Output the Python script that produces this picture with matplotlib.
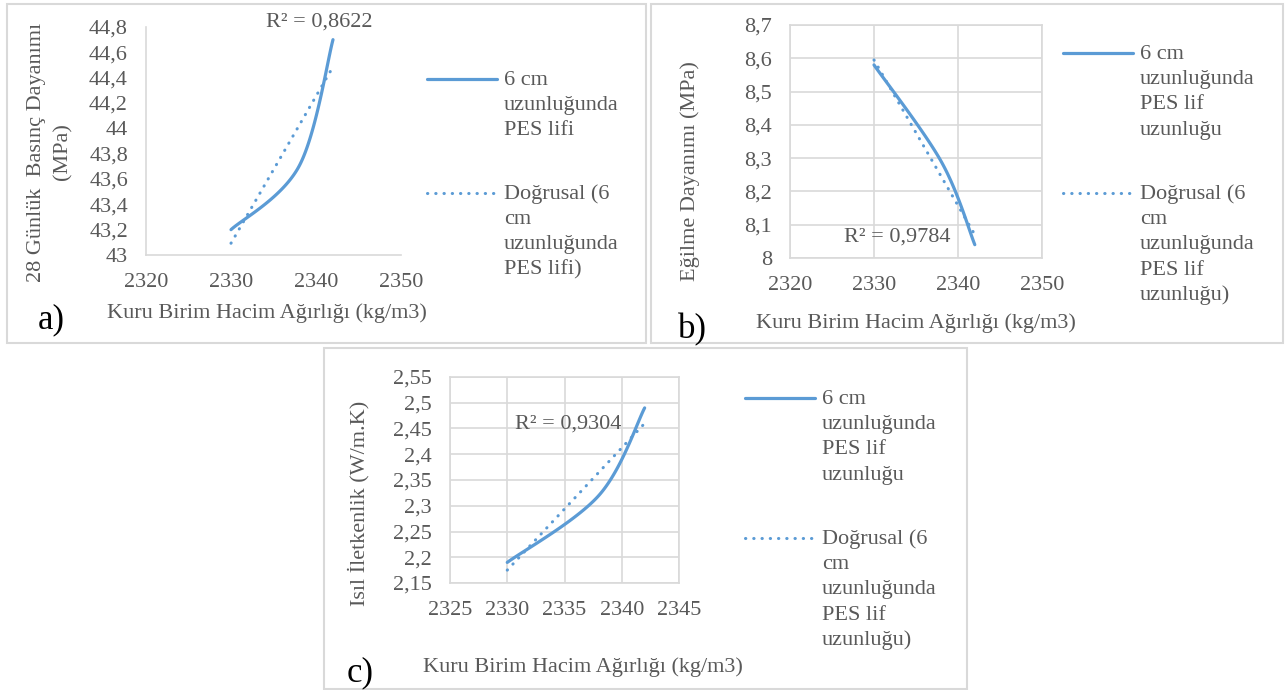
import numpy as np
import matplotlib.pyplot as plt
from matplotlib.lines import Line2D
from matplotlib.patches import Rectangle
from matplotlib.ticker import FuncFormatter

plt.rcParams['font.family'] = ['Liberation Serif', 'DejaVu Serif']

W, H = 1285, 690
BLUE = '#5b9bd5'
GREY = '#595959'
LINE = '#d9d9d9'

# data
density = [2330, 2338, 2342]
compressive = [43.2, 43.7, 44.7]
flexural = [8.58, 8.29, 8.04]
thermal = [2.19, 2.32, 2.49]

x_label = 'Kuru Birim Hacim Ağırlığı (kg/m3)'
r2_text = ['R² = 0,8622', 'R² = 0,9784', 'R² = 0,9304']
legend_a = (['6 cm', 'uzunluğunda', 'PES lifi'],
            ['Doğrusal (6', 'cm', 'uzunluğunda', 'PES lifi)'])
legend_bc = (['6 cm', 'uzunluğunda', 'PES lif', 'uzunluğu'],
             ['Doğrusal (6', 'cm', 'uzunluğunda', 'PES lif', 'uzunluğu)'])

fig = plt.figure(figsize=(W / 100, H / 100), dpi=100)


def fy(py):
    return 1 - py / H


def make_axes(l, t, r, b):
    return fig.add_axes([l / W, 1 - b / H, (r - l) / W, (b - t) / H])


def comma(v, pos):
    s = f'{v:.2f}'.rstrip('0').rstrip('.')
    return s.replace('.', ',')


def style(ax, xlim, xticks, ylim, yticks, grid):
    ax.set_xlim(*xlim)
    ax.set_ylim(*ylim)
    ax.set_xticks(xticks)
    ax.set_yticks(yticks)
    ax.yaxis.set_major_formatter(FuncFormatter(comma))
    ax.tick_params(length=0, labelsize=16, labelcolor=GREY, pad=13)
    for sp in ax.spines.values():
        sp.set_color(LINE)
        sp.set_linewidth(1.2)
    if grid:
        ax.grid(True, color=LINE, lw=1.2)
        ax.set_axisbelow(True)
    else:
        ax.spines['top'].set_visible(False)
        ax.spines['right'].set_visible(False)


def smooth(ax, xs, ys, steps=60):
    # excel-like bezier smoothing done in pixel space
    pts = ax.transData.transform(np.column_stack([xs, ys]))
    p = np.vstack([pts[0], pts, pts[-1]])
    t = np.linspace(0, 1, steps)[:, None]
    segs = []
    for i in range(1, len(p) - 2):
        p0, p1, p2, p3 = p[i - 1], p[i], p[i + 1], p[i + 2]
        c1 = p1 + (p2 - p0) / 6
        c2 = p2 - (p3 - p1) / 6
        segs.append((1 - t) ** 3 * p1 + 3 * (1 - t) ** 2 * t * c1
                    + 3 * (1 - t) * t ** 2 * c2 + t ** 3 * p2)
    return ax.transData.inverted().transform(np.vstack(segs))


def draw_series(ax, xs, ys):
    curve = smooth(ax, xs, ys)
    ax.plot(curve[:, 0], curve[:, 1], color=BLUE, lw=2.3,
            solid_capstyle='round')
    k, b = np.polyfit(xs, ys, 1)
    xt = np.array([min(xs), max(xs)])
    ax.plot(xt, k * xt + b, color=BLUE, lw=2.2,
            linestyle=(0, (0.1, 2.6)), dash_capstyle='round')


def legend(x0, y_solid, y_dot, labels):
    fig.add_artist(Line2D([x0 / W, (x0 + 70) / W], [fy(y_solid)] * 2,
                          color=BLUE, lw=2.3, solid_capstyle='round'))
    fig.add_artist(Line2D([x0 / W, (x0 + 70) / W], [fy(y_dot)] * 2,
                          color=BLUE, lw=2.2, linestyle=(0, (0.1, 2.6)),
                          dash_capstyle='round'))
    for y0, lines in zip((y_solid, y_dot), labels):
        for i, s in enumerate(lines):
            fig.text((x0 + 77) / W, fy(y0 + 25.2 * i + 6), s,
                     fontsize=16, color=GREY, va='baseline', ha='left')


# panel borders
for l, t, r, b in [(7, 4, 646, 343), (651, 4, 1283, 343), (324, 348, 967, 689)]:
    fig.add_artist(Rectangle((l / W, fy(b)), (r - l) / W, (b - t) / H,
                             fill=False, ec=LINE, lw=1.5))

# a) compressive strength
ax_a = make_axes(146, 27, 401, 255)
style(ax_a, (2320, 2350), [2320, 2330, 2340, 2350], (43, 44.8),
      np.round(np.arange(43, 44.81, 0.2), 2), grid=False)
draw_series(ax_a, density, compressive)
fig.text(266 / W, fy(22), r2_text[0], fontsize=16, color=GREY, va='center')
fig.text(267 / W, fy(313), x_label, fontsize=16, color=GREY,
         ha='center', va='center')
fig.text(37 / W, fy(152), '28 Günlük  Basınç Dayanımı', fontsize=16,
         color=GREY, rotation=90, ha='center', va='center')
fig.text(63 / W, fy(152), '(MPa)', fontsize=16, color=GREY, rotation=90,
         ha='center', va='center')
fig.text(51 / W, fy(320), 'a)', fontsize=25, color='black',
         ha='center', va='center')
legend(427, 79, 193, legend_a)

# b) flexural strength
ax_b = make_axes(790, 25, 1042, 258)
style(ax_b, (2320, 2350), [2320, 2330, 2340, 2350], (8, 8.7),
      np.round(np.arange(8, 8.71, 0.1), 2), grid=True)
draw_series(ax_b, density, flexural)
fig.text(844 / W, fy(237), r2_text[1], fontsize=16, color=GREY, va='center')
fig.text(916 / W, fy(323), x_label, fontsize=16, color=GREY,
         ha='center', va='center')
fig.text(690 / W, fy(171), 'Eğilme Dayanımı (MPa)', fontsize=16,
         color=GREY, rotation=90, ha='center', va='center')
fig.text(692 / W, fy(330), 'b)', fontsize=25, color='black',
         ha='center', va='center')
legend(1063, 53, 193, legend_bc)

# c) thermal conductivity
ax_c = make_axes(450, 377, 679, 583)
style(ax_c, (2325, 2345), [2325, 2330, 2335, 2340, 2345], (2.15, 2.55),
      np.round(np.arange(2.15, 2.551, 0.05), 2), grid=True)
draw_series(ax_c, density, thermal)
fig.text(515 / W, fy(424), r2_text[2], fontsize=16, color=GREY, va='center')
fig.text(583 / W, fy(667), x_label, fontsize=16, color=GREY,
         ha='center', va='center')
fig.text(359 / W, fy(503), 'Isıl İletkenlik (W/m.K)', fontsize=16,
         color=GREY, rotation=90, ha='center', va='center')
fig.text(360 / W, fy(673), 'c)', fontsize=25, color='black',
         ha='center', va='center')
legend(745, 398, 538, legend_bc)

fig.savefig('out.png', dpi=100)
